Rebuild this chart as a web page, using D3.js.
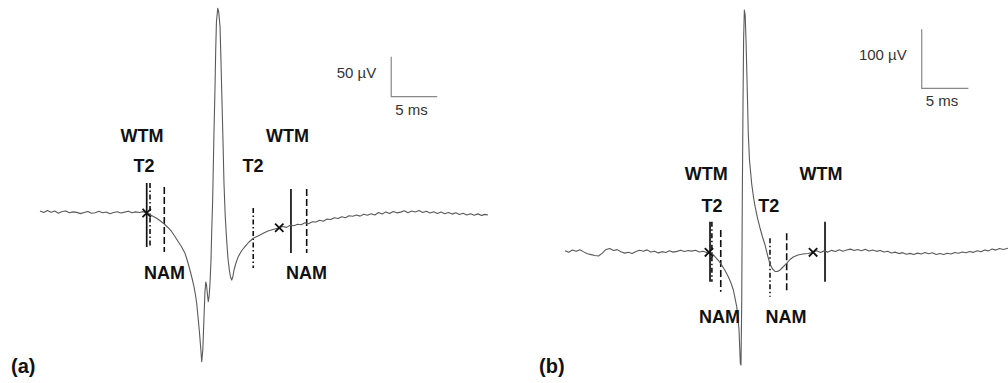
<!DOCTYPE html>
<html><head><meta charset="utf-8">
<script src="https://cdn.jsdelivr.net/npm/d3@7"></script>
<style>html,body{margin:0;padding:0;background:#fff;}svg{display:block;}</style>
</head><body>
<script>
// ---------- Data (time in ms, potential in µV) ----------
const traceA = [[0,2.5],[0.4,0.6],[0.8,3.2],[1.2,1.0],[1.6,2.4],[2.0,-0.4],[2.4,1.8],[2.8,2.6],[3.2,0.2],[3.6,1.4],[4.0,0.8],[4.4,-0.8],[4.8,0.6],[5.2,1.9],[5.6,-0.3],[6.0,0.4],[6.4,2.1],[6.8,0.3],[7.2,1.2],[7.6,-0.9],[8.0,0.7],[8.4,1.6],[8.8,0.1],[9.2,1.1],[9.6,2.3],[10.0,0.2],[10.4,1.4],[10.8,0.6],[11.2,1.7],[11.6,0],
[12.12,-3.1],[12.68,-6.6],[13.10,-10],[13.51,-13.75],[13.91,-18.1],[14.32,-23.4],[14.67,-29.4],[15.03,-35.9],[15.40,-42.5],[15.76,-50.4],[16.03,-60],[16.30,-71.25],[16.52,-81.25],[16.74,-92.1],[16.90,-102.5],[17.03,-112.5],[17.17,-128.75],[17.34,-150],[17.47,-168.75],[17.58,-185.9],[17.70,-171],[17.83,-129.6],[17.93,-98.75],[18.02,-86.25],[18.10,-90],[18.21,-102.5],[18.29,-110.9],[18.39,-103.75],[18.48,-87.9],[18.59,-58.75],[18.66,-25.4],[18.77,16.25],[18.91,99.6],[19.02,153.75],[19.10,203.75],[19.18,238.75],[19.32,255.9],[19.43,251.25],[19.57,232.9],[19.67,191.25],[19.78,141.25],[19.89,91.25],[20.0,37.1],[20.13,-2.5],[20.29,-33.75],[20.43,-56.25],[20.58,-71.25],[20.71,-80],[20.84,-83.75],[20.96,-80],[21.09,-71.25],[21.30,-62.5],[21.55,-54.6],[21.90,-47.5],[22.28,-42.1],[22.72,-36.25],[23.18,-31.6],[23.70,-28.75],[24.27,-25.4],[24.78,-22.5],[25.33,-20.6],[26.01,-18.4],
[26.4,-16.9],[26.8,-18.0],[27.2,-15.2],[27.6,-15.9],[28.0,-14.1],[28.4,-14.6],[28.8,-12.3],[29.2,-13.4],[29.6,-11.0],[30.0,-11.2],[30.4,-9.1],[30.8,-10.3],[31.2,-7.6],[31.6,-8.2],[32.0,-6.0],[32.4,-6.9],[32.8,-4.6],[33.2,-5.9],[33.6,-3.4],[34.0,-4.1],[34.4,-2.5],[34.8,-3.9],[35.2,-1.6],[35.6,-2.8],[36.0,-0.9],[36.4,-2.4],[36.8,0.6],[37.2,-1.2],[37.6,1.4],[38.0,-0.6],[38.4,1.9],[38.8,0.2],[39.2,1.1],[39.6,2.9],[40.0,0.4],[40.4,2.4],[40.8,1.3],[41.2,3.1],[41.6,0.7],[42.0,2.2],[42.4,0.1],[42.8,1.6],[43.2,-0.6],[43.6,1.3],[44.0,-0.9],[44.4,0.6],[44.8,-1.4],[45.2,0.3],[45.6,-1.8],[46.0,-0.4],[46.4,-2.6],[46.8,-0.9],[47.2,-2.9],[47.6,-1.1],[48.0,-3.0],[48.4,-1.7],[48.7,-2.5]];

const traceB = [[0,0.5],[0.4,-2.1],[0.8,1.8],[1.2,-0.6],[1.6,2.2],[2.0,-1.5],[2.4,-4.8],[2.8,-6.2],[3.2,-7.6],[3.6,-8.4],[4.0,-3.5],[4.4,2.6],[4.8,4.1],[5.2,0.9],[5.6,2.3],[6.0,-1.4],[6.4,-3.6],[6.8,-2.0],[7.2,-4.1],[7.6,-0.8],[8.0,1.2],[8.4,-0.5],[8.8,1.9],[9.2,-1.8],[9.6,-0.4],[10.0,-3.2],[10.4,-1.1],[10.8,-2.6],[11.2,0.4],[11.6,-1.9],[12.0,-0.6],[12.4,1.4],[12.8,-1.0],[13.2,0.8],[13.6,-0.2],[14.0,1.3],[14.4,-1.6],[14.8,-0.4],[15.2,-2.6],[15.44,-2.2],
[15.79,-4.2],[16.08,-9.7],[16.41,-15.3],[16.80,-23.7],[17.16,-33],[17.51,-43.6],[17.80,-54.2],[18.05,-66.1],[18.23,-79.7],[18.41,-94.4],[18.55,-113.6],[18.66,-133.9],[18.73,-162.7],[18.80,-190.3],[18.87,-193.2],[18.95,-83],[19.01,86.4],[19.09,255.9],[19.15,357.6],[19.23,408.5],[19.32,400],[19.41,357.6],[19.48,312.4],[19.57,255.9],[19.65,200],[19.78,154.2],[20.02,113.6],[20.21,91.5],[20.37,76.3],[20.64,55.9],[20.91,39],[21.18,23.7],[21.45,10.2],[21.71,-6.8],[21.98,-22],[22.25,-30.5],[22.52,-34.7],[22.79,-34.7],[23.05,-32.2],[23.38,-27.1],[23.77,-20.8],[24.13,-14.4],[24.48,-10.2],[24.98,-6.8],[25.52,-5.1],[26.06,-4.2],[26.6,-2.2],
[27.0,0.6],[27.4,-2.4],[27.8,0.2],[28.2,-1.9],[28.6,1.1],[29.0,-0.8],[29.4,2.0],[29.8,-0.3],[30.2,1.6],[30.6,3.2],[31.0,0.8],[31.4,2.6],[31.8,0.4],[32.2,2.9],[32.6,0.1],[33.0,1.7],[33.4,-0.6],[33.8,1.0],[34.2,-1.8],[34.6,-0.4],[35.0,-3.3],[35.4,-1.9],[35.8,-4.4],[36.2,-2.8],[36.6,-5.6],[37.0,-4.0],[37.4,-6.1],[37.8,-3.6],[38.2,-5.2],[38.6,-2.7],[39.0,-4.8],[39.4,-3.1],[39.8,-5.9],[40.2,-4.2],[40.6,-6.0],[41.0,-3.8],[41.4,-5.0],[41.8,-2.4],[42.2,-3.9],[42.6,-1.6],[43.0,-3.1],[43.4,-0.9],[43.8,-2.3],[44.2,0.3],[44.6,-1.4],[45.0,1.6],[45.4,0.2],[45.8,3.4],[46.2,1.5],[46.6,4.2],[47.0,2.6],[47.5,4.8]];

// Marker lines: type, time (ms), top and bottom extents (µV)
const markerTypeA = ["solid","dashdot","dashed","dashdot","solid","dashed"];
const markerTimeA = [11.6, 11.96, 13.51, 23.18, 27.28, 28.99];
const markerTopA = [37.5, 37.5, 32.5, 6.25, 30, 30];
const markerBottomA = [-42.5, -42.5, -48.75, -68.75, -50, -50];

const markerTypeB = ["solid","dashdot","dashed","dashdot","dashed","solid"];
const markerTimeB = [15.55, 15.75, 16.7, 21.98, 23.77, 27.88];
const markerTopB = [49.7, 49.7, 35.6, 21.5, 30, 49.7];
const markerBottomB = [-52, -52, -69, -77.5, -71.7, -52];

// Cross marks (time ms, µV)
const crossA = [[11.6, 0], [26.01, -18.4]];
const crossB = [[15.44, -2.2], [26.6, -2.2]];

// Annotation labels: text, time (ms), µV (baseline, centred)
const labelTextA = ["WTM","T2","NAM","WTM","T2","NAM"];
const labelTimeA = [11.09, 11.3, 13.53, 26.9, 23.15, 28.97];
const labelVoltA = [89.1, 51.6, -82.5, 89.1, 51.6, -82.5];

const labelTextB = ["WTM","T2","NAM","WTM","T2","NAM"];
const labelTimeB = [15.15, 15.76, 16.57, 27.45, 21.84, 23.7];
const labelVoltB = [120.3, 65.6, -121.5, 120.3, 65.6, -121.5];

// Scale bars: origin (ms, µV), length in ms and µV
const scaleBarA = {t: 38.18, v: 145.4, dt: 5, dv: 50, vLabel: "50 µV", tLabel: "5 ms"};
const scaleBarB = {t: 38.25, v: 275.8, dt: 5, dv: 100, vLabel: "100 µV", tLabel: "5 ms"};

const panelNames = ["(a)", "(b)"];

// ---------- Drawing ----------
const W = 1008, H = 383;
const svg = d3.select("body").append("svg").attr("width", W).attr("height", H);
svg.append("rect").attr("width", W).attr("height", H).attr("fill", "#fff");

function drawPanel(cfg) {
  const x = d3.scaleLinear().domain(cfg.xDomain).range(cfg.xRange);
  const y = d3.scaleLinear().domain(cfg.yDomain).range(cfg.yRange);
  const g = svg.append("g");

  const dash = {solid: null, dashed: "7,3", dashdot: "5,2.5,1.5,2.5"};
  cfg.mType.forEach((tp, i) => {
    g.append("line")
      .attr("x1", x(cfg.mTime[i])).attr("x2", x(cfg.mTime[i]))
      .attr("y1", y(cfg.mTop[i])).attr("y2", y(cfg.mBottom[i]))
      .attr("stroke", "#111").attr("stroke-width", tp === "solid" ? 1.7 : 1.6)
      .attr("stroke-dasharray", dash[tp]);
  });

  const line = d3.line().x(d => x(d[0])).y(d => y(d[1])).curve(d3.curveLinear);
  g.append("path").datum(cfg.trace).attr("d", line)
    .attr("fill", "none").attr("stroke", "#5a5a5a").attr("stroke-width", 1.1)
    .attr("stroke-linejoin", "round");

  cfg.cross.forEach(c => {
    const cx = x(c[0]), cy = y(c[1]), s = 4.2;
    g.append("path").attr("d", `M${cx-s},${cy-s}L${cx+s},${cy+s}M${cx-s},${cy+s}L${cx+s},${cy-s}`)
      .attr("stroke", "#111").attr("stroke-width", 1.8).attr("fill", "none");
  });

  cfg.lText.forEach((t, i) => {
    g.append("text").attr("x", x(cfg.lTime[i])).attr("y", y(cfg.lVolt[i]))
      .attr("text-anchor", "middle")
      .attr("font-family", "Liberation Sans, Arial, sans-serif")
      .attr("font-weight", "bold").attr("font-size", 18).attr("fill", "#111")
      .text(t);
  });

  const sb = cfg.scale;
  const x0 = x(sb.t), y0 = y(sb.v);
  g.append("path")
    .attr("d", `M${x0},${y(sb.v + sb.dv)}L${x0},${y0}L${x(sb.t + sb.dt)},${y0}`)
    .attr("fill", "none").attr("stroke", "#888").attr("stroke-width", 1.2);
  g.append("text").attr("x", x0 - 15).attr("y", y(sb.v + sb.dv * 0.5) + 1)
    .attr("text-anchor", "end").attr("font-family", "Liberation Sans, Arial, sans-serif")
    .attr("font-size", 15).attr("fill", "#333").text(sb.vLabel);
  g.append("text").attr("x", x0 + 4).attr("y", y0 + 18)
    .attr("font-family", "Liberation Sans, Arial, sans-serif")
    .attr("font-size", 15).attr("fill", "#333").text(sb.tLabel);

  g.append("text").attr("x", cfg.nameX).attr("y", 373)
    .attr("font-family", "Liberation Sans, Arial, sans-serif")
    .attr("font-weight", "bold").attr("font-size", 20).attr("fill", "#111")
    .text(cfg.name);
}

drawPanel({
  xDomain: [0, 48.7], xRange: [40, 488],
  yDomain: [-200, 260], yRange: [373, 5],
  trace: traceA, mType: markerTypeA, mTime: markerTimeA, mTop: markerTopA, mBottom: markerBottomA,
  cross: crossA, lText: labelTextA, lTime: labelTimeA, lVolt: labelVoltA,
  scale: scaleBarA, name: panelNames[0], nameX: 11
});
drawPanel({
  xDomain: [0, 47.5], xRange: [565, 1008],
  yDomain: [-200, 420], yRange: [369, 3.2],
  trace: traceB, mType: markerTypeB, mTime: markerTimeB, mTop: markerTopB, mBottom: markerBottomB,
  cross: crossB, lText: labelTextB, lTime: labelTimeB, lVolt: labelVoltB,
  scale: scaleBarB, name: panelNames[1], nameX: 539
});
</script>
</body></html>
